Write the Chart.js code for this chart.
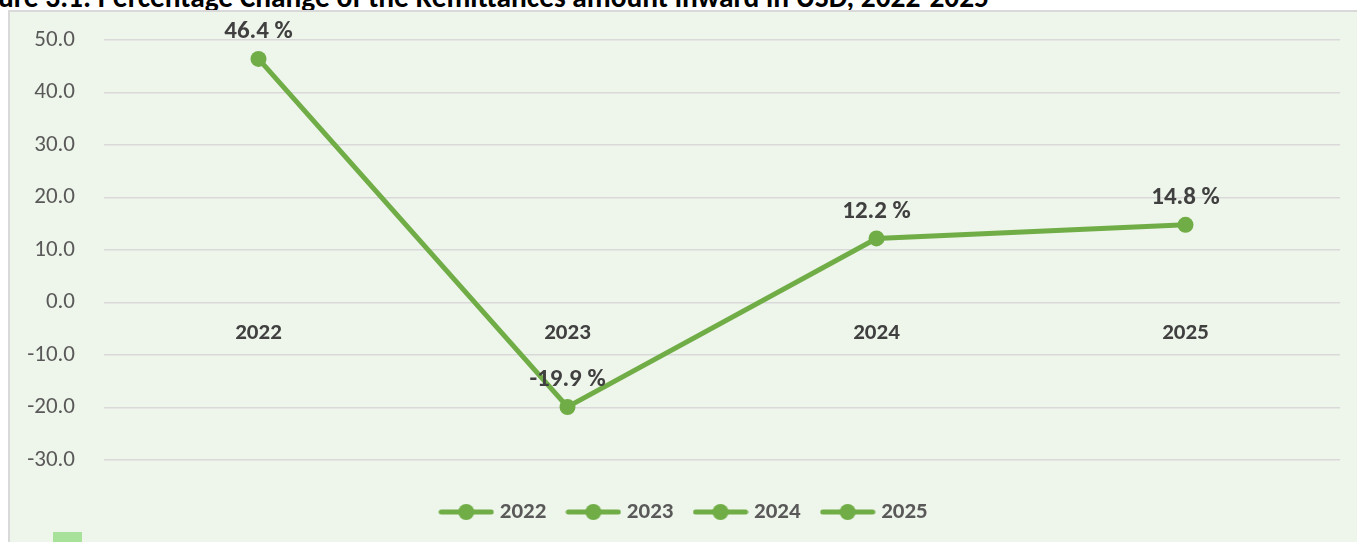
<!DOCTYPE html>
<html>
<head>
<meta charset="utf-8">
<script src="https://cdn.jsdelivr.net/npm/chart.js@4.4.1/dist/chart.umd.min.js"></script>
<style>
  html, body { margin: 0; padding: 0; background: #ffffff; width: 1357px; height: 542px; overflow: hidden; position: relative; }
  #title { position: absolute; right: 368px; top: -17px; white-space: nowrap; font: bold 29.4px/29px Carlito, Lato, sans-serif; color: #000; }
  #box { position: absolute; left: 8px; top: 10px; width: 1347px; height: 530px; border-left: 2px solid #D9D9D9; border-top: 2px solid #D9D9D9; background: #EEF5EA; }
  #chart { display: block; }
  #sq { position: absolute; left: 53px; top: 532px; width: 29px; height: 10px; background: #A8E29A; }
</style>
</head>
<body>
<div id="title">Figure 3.1: Percentage Change of the Remittances amount inward in USD, 2022-2025</div>
<div id="box"><canvas id="chart" width="1347" height="530"></canvas></div>
<div id="sq"></div>
<script>
const categories = ['2022', '2023', '2024', '2025'];
const changePct = [46.4, -19.9, 12.2, 14.8];
const yTicks = [-30, -20, -10, 0, 10, 20, 30, 40, 50];

const GREEN = '#70AD47';
const FONT = 'Carlito, Lato, sans-serif';

// legend symbol: line with marker
const sym = document.createElement('canvas');
sym.width = 56; sym.height = 18;
(function () {
  const c = sym.getContext('2d');
  c.strokeStyle = GREEN; c.lineWidth = 5; c.lineCap = 'round';
  c.beginPath(); c.moveTo(3, 9); c.lineTo(53, 9); c.stroke();
  c.fillStyle = GREEN; c.beginPath(); c.arc(28, 9, 8, 0, Math.PI * 2); c.fill();
})();

const dataLabels = {
  id: 'dataLabels',
  afterDatasetsDraw(chart) {
    const ctx = chart.ctx;
    const meta = chart.getDatasetMeta(0);
    ctx.save();
    ctx.font = 'bold 25px ' + FONT;
    ctx.fillStyle = '#404040';
    ctx.textAlign = 'center';
    ctx.textBaseline = 'middle';
    meta.data.forEach((pt, i) => {
      ctx.fillText(changePct[i].toFixed(1) + ' %', pt.x, pt.y - 27);
    });
    ctx.restore();
  }
};

// nudge the centred legend row slightly right, as in the original
const legendShift = {
  id: 'legendShift',
  afterLayout(chart) {
    if (chart.legend) { chart.legend.left += 11; chart.legend.right += 11; }
  }
};

new Chart(document.getElementById('chart'), {
  type: 'line',
  data: {
    labels: categories,
    datasets: [{
      label: 'Change',
      data: changePct,
      borderColor: GREEN,
      backgroundColor: GREEN,
      borderWidth: 5,
      pointRadius: 8,
      pointHoverRadius: 8,
      pointBackgroundColor: GREEN,
      pointBorderWidth: 0,
      tension: 0,
      fill: false
    }]
  },
  options: {
    responsive: false,
    devicePixelRatio: 1,
    animation: false,
    layout: { padding: { top: 28, right: 17, left: 0, bottom: 8.5 } },
    scales: {
      x: {
        type: 'category',
        position: { y: 0 },
        offset: true,
        grid: { display: false, drawTicks: false },
        border: { display: false },
        ticks: { padding: 17, color: '#404040', font: { family: FONT, size: 23, weight: 'bold' } }
      },
      y: {
        min: -30, max: 50,
        afterBuildTicks(scale) { scale.ticks = yTicks.map(v => ({ value: v })); },
        afterFit(scale) { scale.width = 94; },
        grid: { color: '#D9D9D9', lineWidth: 1.5, drawTicks: true, tickLength: 29, tickColor: 'rgba(0,0,0,0)' },
        border: { display: false },
        ticks: { padding: 0, color: '#595959', font: { family: FONT, size: 23 }, callback: v => v.toFixed(1) }
      }
    },
    plugins: {
      tooltip: { enabled: false },
      legend: {
        position: 'bottom',
        title: { display: true, text: '', font: { size: 1, lineHeight: 1 }, padding: { top: 14.5, bottom: 0 } },
        labels: {
          usePointStyle: true,
          pointStyleWidth: 44,
          padding: 25,
          color: '#595959',
          font: { family: FONT, size: 23, weight: 'bold' },
          generateLabels: () => categories.map(c => ({
            text: c, pointStyle: sym, fillStyle: GREEN, strokeStyle: GREEN, lineWidth: 0, hidden: false, fontColor: '#595959'
          }))
        }
      }
    }
  },
  plugins: [dataLabels, legendShift]
});
</script>
</body>
</html>
